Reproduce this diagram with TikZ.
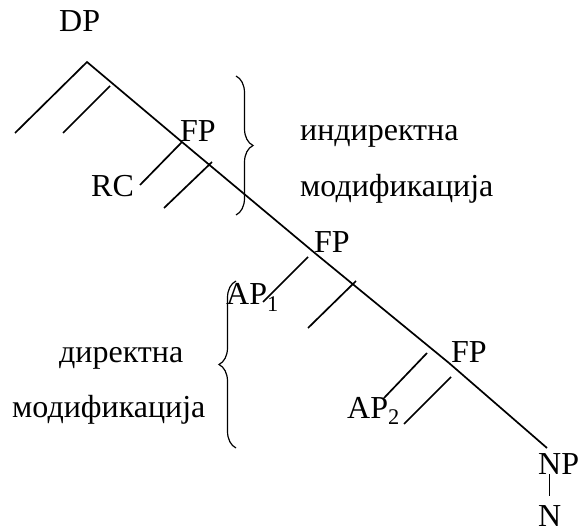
\documentclass[tikz,border=0pt]{standalone}
\usepackage{fontspec}
\setmainfont{Liberation Serif}
\usetikzlibrary{decorations.pathreplacing}

\begin{document}
\begin{tikzpicture}[
    x=1pt, y=-1pt,
    every node/.style={inner sep=0pt, anchor=base west, font=\fontsize{32}{38}\selectfont},
    branch/.style={draw, line width=1.7pt},
    bracket/.style={draw, line width=1.2pt, decorate, decoration={brace, amplitude=17pt}}
]
    \useasboundingbox (0,0) rectangle (579,532);
    % spine and its junctions
    \coordinate (top) at (87,62);
    \coordinate (fpone) at (182,142);
    \coordinate (fptwo) at (316,254);
    \coordinate (fpthree) at (449,363);
    \coordinate (spineend) at (547,448);
    % free ends of the side branches
    \coordinate (leftend) at (15,133);
    \coordinate (barAtop) at (110,86);   \coordinate (barAbot) at (63,133);
    \coordinate (rcend) at (140,185);
    \coordinate (barBtop) at (212,162);  \coordinate (barBbot) at (164,208);
    \coordinate (apAtop) at (308,257);   \coordinate (apAend) at (263,302);
    \coordinate (barCtop) at (356,281);  \coordinate (barCbot) at (308,328);
    \coordinate (apBtop) at (427,353);   \coordinate (apBend) at (384,398);
    \coordinate (barDtop) at (451,377);  \coordinate (barDbot) at (404,424);

    % labels
    \node (dp) at (59,32) {DP};
    \node (fpA) at (180,142) {FP};
    \node (rc) at (91,197) {RC};
    \node (fpB) at (314,253) {FP};
    \node (apA) at (226,305) {AP\textsubscript{1}};
    \node (fpC) at (451,362) {FP};
    \node (apB) at (347,418) {AP\textsubscript{2}};
    \node (np) at (538,474) {NP};
    \node (n) at (538,526) {N};
    \node (indirA) at (300,141) {индиректна};
    \node (indirB) at (300,197) {модификација};
    \node (dirA) at (59,362) {директна};
    \node (dirB) at (12,417) {модификација};

    % tree
    \draw[branch] (leftend) -- (top) -- (fpone) -- (fptwo) -- (fpthree) -- (spineend);
    \draw[branch] (barAtop) -- (barAbot);
    \draw[branch] (fpone) -- (rcend);
    \draw[branch] (barBtop) -- (barBbot);
    \draw[branch] (apAtop) -- (apAend);
    \draw[branch] (barCtop) -- (barCbot);
    \draw[branch] (apBtop) -- (apBend);
    \draw[branch] (barDtop) -- (barDbot);
    \draw[line width=1.2pt, shorten >=9pt] (np.south -| n.north) -- (n.north);

    % braces
    \draw[bracket] (236,76) -- (236,215);
    \draw[bracket] (236,448) -- (236,281);
\end{tikzpicture}
\end{document}
